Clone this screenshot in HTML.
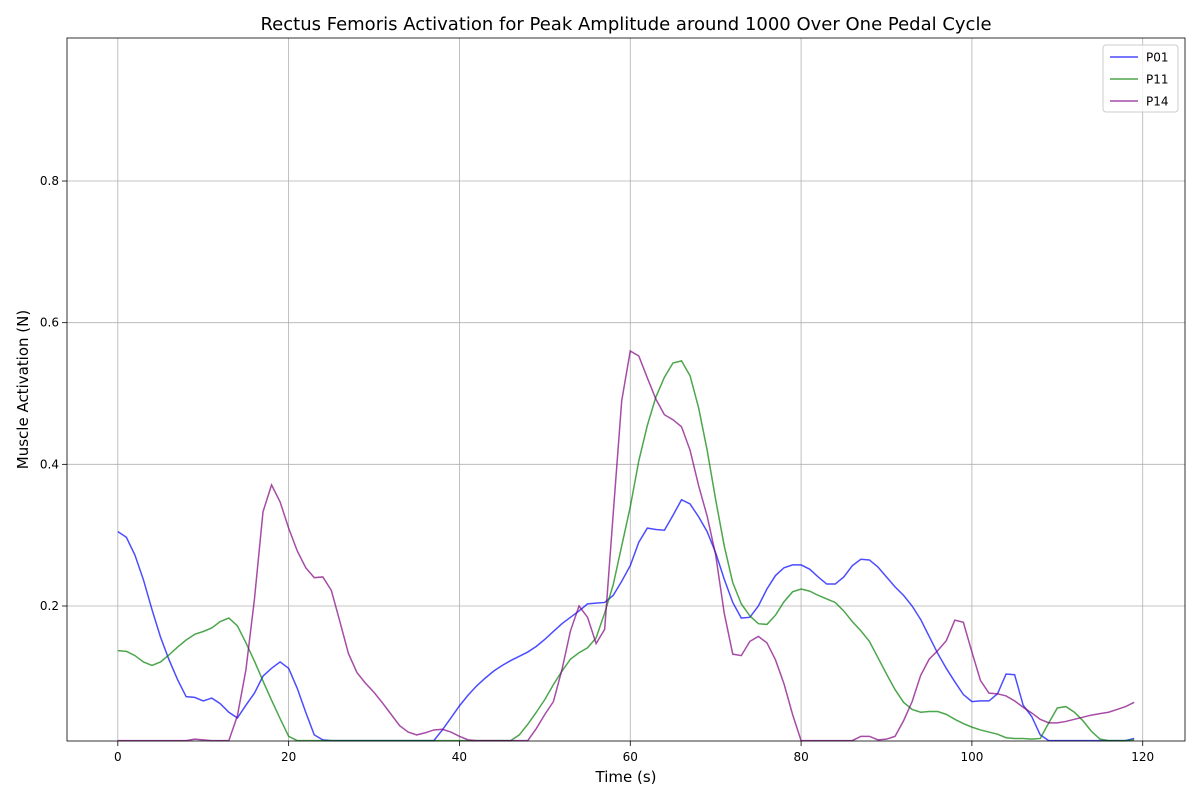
<!DOCTYPE html>
<html><head><meta charset="utf-8"><style>
body{margin:0;background:#fff;font-family:"Liberation Sans","DejaVu Sans",sans-serif}
svg text{font-family:"DejaVu Sans","Liberation Sans",sans-serif}
</style></head><body>
<svg id="chart" width="1200" height="800" xmlns="http://www.w3.org/2000/svg"></svg>
<script>
const timeSteps = Array.from({length:120},(_,i)=>i);
const p01 = [0.305,0.297,0.272,0.237,0.195,0.156,0.124,0.096,0.072,0.071,0.066,0.070,0.062,0.050,0.042,0.060,0.077,0.101,0.112,0.121,0.112,0.084,0.050,0.018,0.011,0.01,0.01,0.01,0.01,0.01,0.01,0.01,0.01,0.01,0.01,0.01,0.01,0.01,0.025,0.042,0.059,0.074,0.087,0.098,0.108,0.116,0.123,0.129,0.135,0.143,0.153,0.164,0.175,0.184,0.193,0.203,0.204,0.205,0.215,0.235,0.257,0.290,0.310,0.308,0.307,0.328,0.350,0.344,0.326,0.305,0.275,0.238,0.205,0.183,0.184,0.200,0.224,0.243,0.254,0.258,0.258,0.252,0.241,0.231,0.231,0.241,0.257,0.266,0.265,0.255,0.241,0.227,0.215,0.200,0.181,0.157,0.133,0.112,0.093,0.075,0.065,0.066,0.066,0.076,0.104,0.103,0.060,0.044,0.018,0.01,0.01,0.01,0.01,0.01,0.01,0.01,0.01,0.01,0.01,0.013];
const p11 = [0.137,0.136,0.130,0.121,0.116,0.121,0.131,0.142,0.152,0.160,0.164,0.169,0.178,0.183,0.172,0.148,0.122,0.094,0.067,0.041,0.016,0.010,0.01,0.01,0.01,0.01,0.01,0.01,0.01,0.01,0.01,0.01,0.01,0.01,0.01,0.01,0.01,0.01,0.01,0.01,0.01,0.01,0.01,0.01,0.01,0.01,0.01,0.018,0.033,0.050,0.068,0.089,0.108,0.125,0.134,0.141,0.155,0.190,0.230,0.285,0.340,0.405,0.455,0.495,0.523,0.543,0.546,0.525,0.480,0.420,0.350,0.285,0.233,0.203,0.186,0.175,0.174,0.187,0.206,0.220,0.224,0.221,0.215,0.210,0.205,0.193,0.178,0.165,0.150,0.127,0.104,0.082,0.064,0.054,0.050,0.051,0.051,0.047,0.040,0.034,0.029,0.025,0.022,0.019,0.014,0.013,0.013,0.012,0.013,0.035,0.056,0.058,0.050,0.038,0.023,0.012,0.01,0.01,0.01,0.011];
const p14 = [0.01,0.01,0.01,0.01,0.01,0.01,0.01,0.01,0.01,0.012,0.011,0.01,0.01,0.01,0.045,0.110,0.210,0.333,0.371,0.347,0.310,0.278,0.254,0.240,0.241,0.222,0.178,0.133,0.106,0.091,0.078,0.063,0.047,0.031,0.022,0.018,0.021,0.025,0.026,0.022,0.016,0.011,0.01,0.01,0.01,0.01,0.01,0.01,0.01,0.027,0.047,0.065,0.110,0.165,0.200,0.184,0.147,0.167,0.330,0.490,0.560,0.553,0.522,0.492,0.470,0.463,0.453,0.420,0.370,0.327,0.272,0.190,0.132,0.130,0.150,0.157,0.148,0.124,0.090,0.047,0.01,0.01,0.01,0.01,0.01,0.01,0.01,0.016,0.016,0.011,0.012,0.016,0.038,0.065,0.102,0.125,0.137,0.151,0.180,0.177,0.135,0.095,0.077,0.076,0.073,0.066,0.057,0.049,0.040,0.035,0.035,0.037,0.040,0.043,0.046,0.048,0.050,0.054,0.058,0.064];
const seriesNames = ["P01","P11","P14"];
const xTicks = [0,20,40,60,80,100,120];
const yTicks = [0.2,0.4,0.6,0.8];

const svg = document.getElementById('chart');
const NS = "http://www.w3.org/2000/svg";
const L=67,R=1185,T=38,B=741;
const xMin=-5.95,xMax=124.95,yMin=0.0094,yMax=1.0019;
const sx=v=>L+(v-xMin)/(xMax-xMin)*(R-L);
const sy=v=>B-(v-yMin)/(yMax-yMin)*(B-T);
function el(tag,attrs,parent){const e=document.createElementNS(NS,tag);for(const k in attrs)e.setAttribute(k,attrs[k]);(parent||svg).appendChild(e);return e;}

const grid = el('g',{});


xTicks.forEach(t=>{
  const g=el('line',{x1:sx(t),x2:sx(t),y1:T,y2:B,stroke:'#b0b0b0','stroke-width':0.8},grid);
  
  
  const tk=el('line',{x1:sx(t),x2:sx(t),y1:B,y2:B+5,stroke:'#000','stroke-width':0.8});
  
  
  const tx=el('text',{x:sx(t),y:B+20,'text-anchor':'middle','font-size':12});
  tx.textContent=t;
  
  
});
yTicks.forEach(t=>{
  const g=el('line',{x1:L,x2:R,y1:sy(t),y2:sy(t),stroke:'#b0b0b0','stroke-width':0.8},grid);
  
  
  const tk=el('line',{x1:L-5,x2:L,y1:sy(t),y2:sy(t),stroke:'#000','stroke-width':0.8});
  
  
  const tx=el('text',{x:L-8,y:sy(t)+4,'text-anchor':'end','font-size':12});
  tx.textContent=t.toFixed(1);
  
  
});

const colors=['rgba(0,0,255,0.7)','rgba(0,128,0,0.7)','rgba(128,0,128,0.7)'];
[p01,p11,p14].forEach((s,k)=>{
  const d=s.map((v,i)=>(i?'L':'M')+sx(timeSteps[i]).toFixed(2)+','+sy(v).toFixed(2)).join('');
  const p=el('path',{d:d,fill:'none',stroke:colors[k],'stroke-width':1.5});
  
  
});

const frame=el('rect',{x:L,y:T,width:R-L,height:B-T,fill:'none',stroke:'#000','stroke-width':0.8});



const title=el('text',{x:(L+R)/2,y:30,'text-anchor':'middle','font-size':18});
title.textContent='Rectus Femoris Activation for Peak Amplitude around 1000 Over One Pedal Cycle';


const xl=el('text',{x:(L+R)/2,y:782,'text-anchor':'middle','font-size':15});
xl.textContent='Time (s)';


const yl=el('text',{x:0,y:0,'text-anchor':'middle','font-size':15,transform:`translate(28,${(T+B)/2}) rotate(-90)`});
yl.textContent='Muscle Activation (N)';



const lg=el('g',{});


el('rect',{x:1103,y:45,width:75,height:67,rx:3,fill:'#fff','fill-opacity':0.8,stroke:'#ccc'},lg);
seriesNames.forEach((n,k)=>{
  const y=57+k*22;
  const ln=el('line',{x1:1110,x2:1138,y1:y,y2:y,stroke:colors[k],'stroke-width':1.5},lg);
  
  
  const t=el('text',{x:1146,y:y+4.5,'font-size':12},lg);
  t.textContent=n;
  
  
});
</script>
</body></html>
